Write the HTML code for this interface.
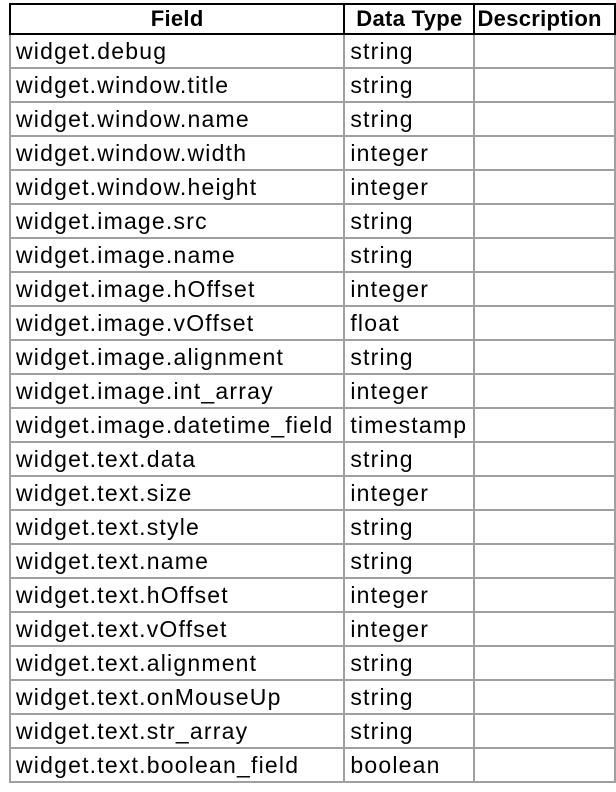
<!DOCTYPE html>
<html><head><style>
html,body{margin:0;padding:0;background:#fff;width:616px;height:792px;overflow:hidden}
table{position:absolute;left:9px;top:3px;border-collapse:collapse;table-layout:fixed;font-family:"Liberation Sans",sans-serif;font-size:23px;letter-spacing:1.2px;color:#000}
td,th{border:2px solid #a0a0a0;height:32px;padding:0 0 0 5px;white-space:nowrap;overflow:hidden;line-height:32px;text-align:left}
th{border:2px solid #000;font-weight:bold;text-align:center;padding:0;height:28px;line-height:28px;letter-spacing:0.3px;font-size:22px}
</style></head><body>
<table>
<colgroup><col style="width:342px"><col style="width:135px"><col style="width:150px"></colgroup>
<tr><th>Field</th><th>Data Type</th><th style="text-align:left;padding-left:2px">Description</th></tr>
<tr><td>widget.debug</td><td>string</td><td></td></tr>
<tr><td>widget.window.title</td><td>string</td><td></td></tr>
<tr><td>widget.window.name</td><td>string</td><td></td></tr>
<tr><td>widget.window.width</td><td>integer</td><td></td></tr>
<tr><td>widget.window.height</td><td>integer</td><td></td></tr>
<tr><td>widget.image.src</td><td>string</td><td></td></tr>
<tr><td>widget.image.name</td><td>string</td><td></td></tr>
<tr><td>widget.image.hOffset</td><td>integer</td><td></td></tr>
<tr><td>widget.image.vOffset</td><td>float</td><td></td></tr>
<tr><td>widget.image.alignment</td><td>string</td><td></td></tr>
<tr><td>widget.image.int_array</td><td>integer</td><td></td></tr>
<tr><td>widget.image.datetime_field</td><td>timestamp</td><td></td></tr>
<tr><td>widget.text.data</td><td>string</td><td></td></tr>
<tr><td>widget.text.size</td><td>integer</td><td></td></tr>
<tr><td>widget.text.style</td><td>string</td><td></td></tr>
<tr><td>widget.text.name</td><td>string</td><td></td></tr>
<tr><td>widget.text.hOffset</td><td>integer</td><td></td></tr>
<tr><td>widget.text.vOffset</td><td>integer</td><td></td></tr>
<tr><td>widget.text.alignment</td><td>string</td><td></td></tr>
<tr><td>widget.text.onMouseUp</td><td>string</td><td></td></tr>
<tr><td>widget.text.str_array</td><td>string</td><td></td></tr>
<tr><td>widget.text.boolean_field</td><td>boolean</td><td></td></tr>
</table>
</body></html>
